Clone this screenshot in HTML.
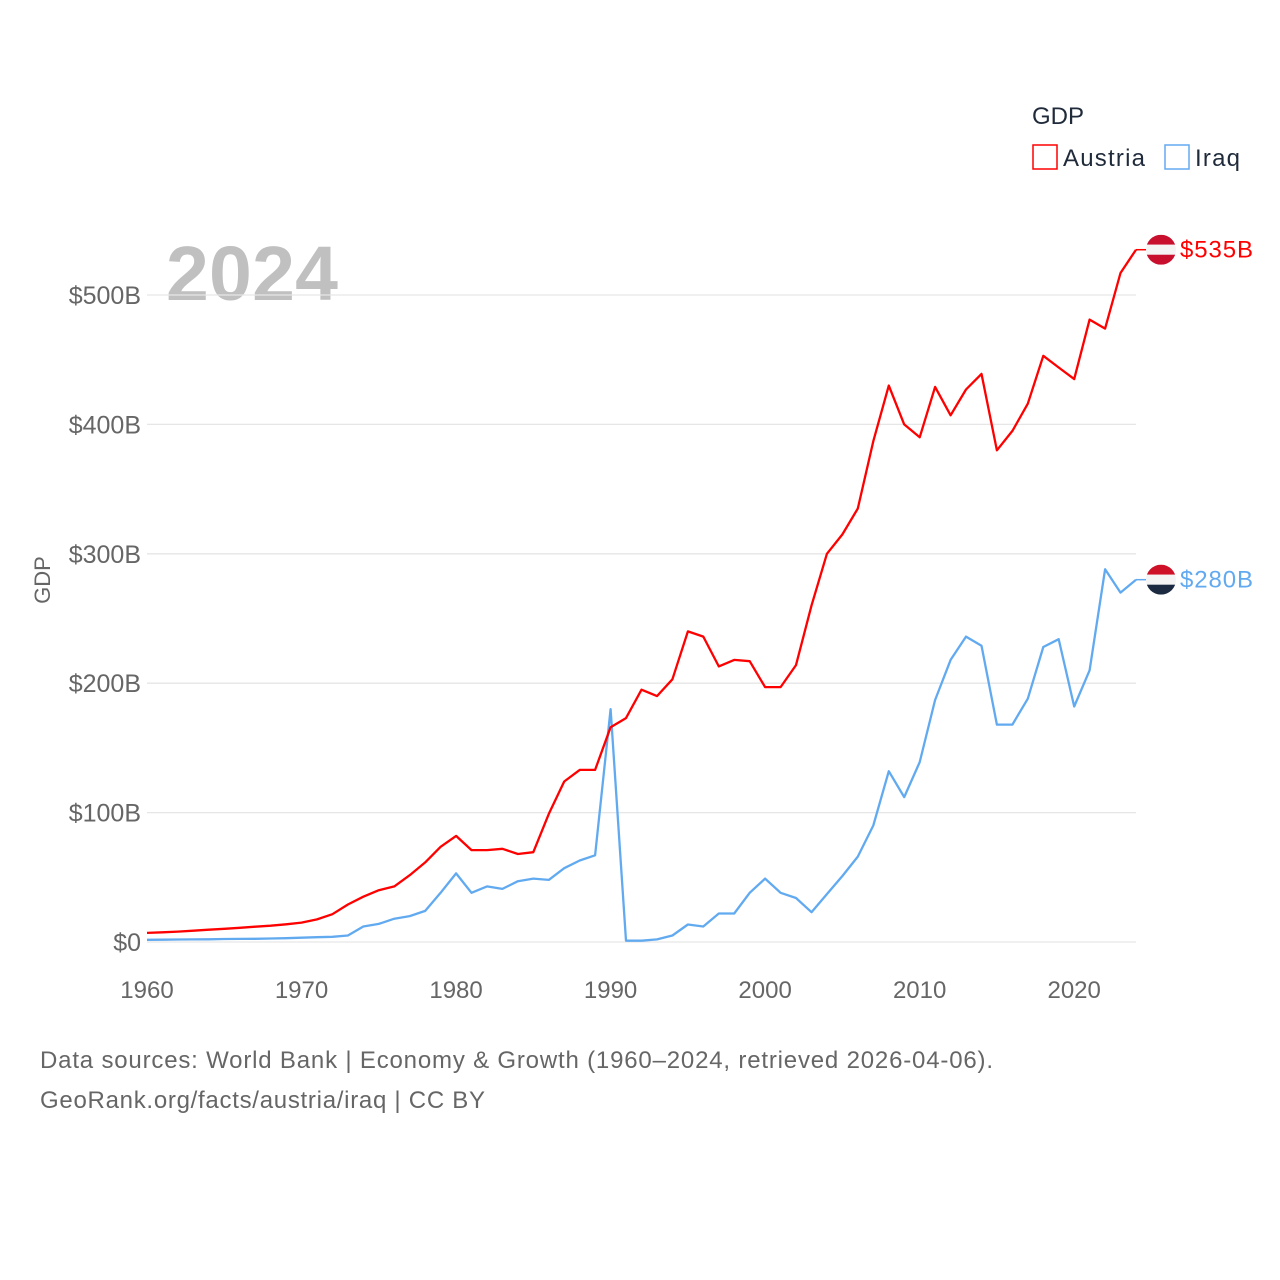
<!DOCTYPE html>
<html><head><meta charset="utf-8"><style>
body{margin:0;background:#fff;width:1280px;height:1280px;overflow:hidden;font-family:"Liberation Sans",sans-serif}
svg{display:block}
</style></head><body>
<svg id="chart" width="1280" height="1280">
<text x="1032" y="124" font-size="24" fill="#1f2a3a">GDP</text>
<g><rect x="1033" y="145" width="24" height="24" fill="none" stroke="#ff0000" stroke-width="1.5"/><text x="1063" y="166" font-size="24" fill="#1f2a3a" textLength="82">Austria</text></g>
<g><rect x="1165" y="145" width="24" height="24" fill="none" stroke="#62aaf0" stroke-width="1.5"/><text x="1195" y="166" font-size="24" fill="#1f2a3a" textLength="45">Iraq</text></g>
<text x="166" y="300" font-size="77" font-weight="bold" fill="#c0c0c0" textLength="172">2024</text>
<text transform="translate(50,580) rotate(-90)" text-anchor="middle" font-size="22" fill="#666">GDP</text>
<g id="grid"></g><g id="lines"></g>
<text x="40" y="1068" font-size="24" fill="#666" textLength="953">Data sources: World Bank | Economy &amp; Growth (1960–2024, retrieved 2026-04-06).</text>
<text x="40" y="1108" font-size="24" fill="#666" textLength="445">GeoRank.org/facts/austria/iraq | CC BY</text>
</svg>
<script>
const years=[];for(let y=1960;y<=2024;y++)years.push(y);
const austria=[7,7.5,8,8.7,9.5,10.2,11,11.8,12.6,13.7,15,17.5,21.5,29,35,40,43,51.6,61.5,73.6,82,71,71,72,68,69.4,99,124,133,133,166,173,195,190,203,240,236,213,218,217,197,197,214,260,300,315,335,387,430,400,390,429,407,427,439,380,395,416,453,444,435,481,474,517,535];
const iraq=[1.7,1.8,1.9,2,2.1,2.3,2.4,2.5,2.7,2.9,3.3,3.7,4,5,12,14,18,20,24,38,53,38,43,41,47,49,48,57,63,67,180,1,1,2,5,13.5,12,22,22,38,49,38,34,23,37,51,66,90,132,112,139,187,218,236,229,168,168,188,228,234,182,210,288,270,280];
const yTicks=[0,100,200,300,400,500];
const xTicks=[1960,1970,1980,1990,2000,2010,2020];
const X=y=>147+(y-1960)*(1136-147)/64;
const Y=v=>942-v*(942-295)/500;
const ns="http://www.w3.org/2000/svg";
function mk(t,a,p){const e=document.createElementNS(ns,t);for(const k in a)e.setAttribute(k,a[k]);p.appendChild(e);return e;}
const g=document.getElementById('grid'),L=document.getElementById('lines');
yTicks.forEach(v=>{
 const l=mk('line',{x1:147,x2:1136,y1:Y(v),y2:Y(v),stroke:'#e6e6e6','stroke-width':1.3},g);
 
 
 const t=mk('text',{x:141,y:Y(v)+9,'text-anchor':'end','font-size':25,fill:'#666'},g);
 t.textContent='$'+v+(v?'B':'');
 
 
});
xTicks.forEach(y=>{
 const t=mk('text',{x:X(y),y:998,'text-anchor':'middle','font-size':24,fill:'#666'},g);
 t.textContent=y;
 
 
});
function series(vals,color,name,label){
 const d=vals.map((v,i)=>(i?'L':'M')+X(years[i]).toFixed(1)+','+Y(v).toFixed(1)).join('');
 const p=mk('path',{d:d,fill:'none',stroke:color,'stroke-width':2.3,'stroke-linejoin':'round'},L);
 
 
 const last=vals[vals.length-1],ly=Y(last);
 mk('line',{x1:1136,x2:1146,y1:ly,y2:ly,stroke:color,'stroke-width':1.5},L);
 const f=mk('g',{},L);
 
 
 const top=name==='austria'?'#c8102e':'#ce1126',mid='#f4f4f4',bot=name==='austria'?'#c8102e':'#1b2a40';
 mk('clipPath',{id:'c'+name},f);
 mk('circle',{cx:1161,cy:ly,r:15},document.getElementById('c'+name));
 const cg=mk('g',{'clip-path':'url(#c'+name+')'},f);
 mk('rect',{x:1146,y:ly-15,width:30,height:10,fill:top},cg);
 mk('rect',{x:1146,y:ly-5,width:30,height:10,fill:mid},cg);
 mk('rect',{x:1146,y:ly+5,width:30,height:10,fill:bot},cg);
 const t=mk('text',{x:1180,y:ly+8,'font-size':24,fill:color,textLength:73},L);
 t.textContent=label;
 
 
}
series(iraq,'#62aaf0','iraq','$'+iraq[iraq.length-1]+'B');
series(austria,'#ff0000','austria','$'+austria[austria.length-1]+'B');
</script>
</body></html>
